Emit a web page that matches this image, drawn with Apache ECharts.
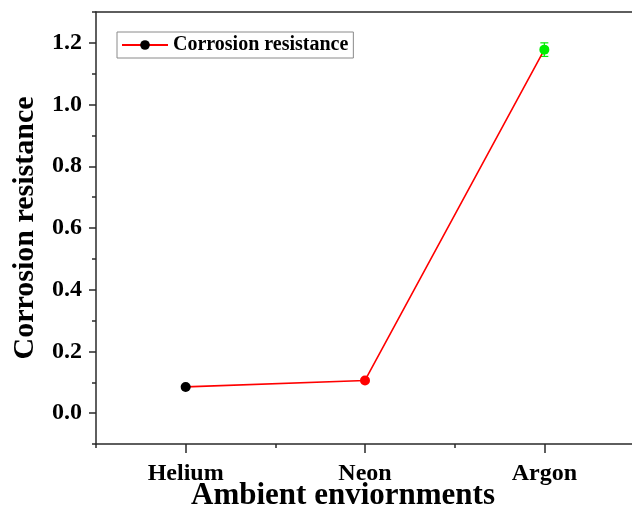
<!DOCTYPE html>
<html>
<head>
<meta charset="utf-8">
<script src="https://cdn.jsdelivr.net/npm/echarts@6/dist/echarts.min.js"></script>
<style>
  html, body { margin: 0; padding: 0; background: #ffffff; }
  #chart { width: 632px; height: 523px; }
</style>
</head>
<body>
<div id="chart"></div>
<script>
// Corrosion resistance measured in each ambient gas
const categories = ['Helium', 'Neon', 'Argon'];
const resistance = [0.085, 0.106, 1.178];
const resistanceErr = [0.004, 0.004, 0.022];
const pointColors = ['#000000', '#ff0000', '#00ee00'];

const seriesName = 'Corrosion resistance';
const xTitle = 'Ambient enviornments';
const yTitle = 'Corrosion resistance';

const FONT = '"Liberation Serif", "Times New Roman", serif';
const AXIS_COLOR = '#2a2a2a';

// main plot frame (pixels)
const G = { left: 96, right: -2, top: 12, bottom: 79 };
const Y_MIN = -0.1, Y_MAX = 1.3;
const chartH = 523;
const pxPerUnit = (chartH - G.top - G.bottom) / (Y_MAX - Y_MIN);

const chart = echarts.init(document.getElementById('chart'), null, { renderer: 'canvas' });

const errorData = categories.map((c, i) => ({
  value: [i, resistance[i] - resistanceErr[i], resistance[i] + resistanceErr[i]],
  itemStyle: { color: pointColors[i] }
}));

const pointData = categories.map((c, i) => ({
  value: resistance[i],
  itemStyle: { color: pointColors[i] }
}));

const axisLineStyle = { color: AXIS_COLOR, width: 1.5 };

chart.setOption({
  animation: false,
  backgroundColor: '#ffffff',
  grid: [
    {
      left: G.left, right: G.right, top: G.top, bottom: G.bottom,
      containLabel: false, outerBoundsMode: 'none'
    },
    // labelled major ticks 0.0 .. 1.2
    {
      left: G.left, right: G.right,
      top: G.top + (Y_MAX - 1.2) * pxPerUnit,
      bottom: G.bottom + (0 - Y_MIN) * pxPerUnit,
      containLabel: false, outerBoundsMode: 'none'
    }
  ],
  legend: {
    data: [seriesName],
    left: 117,
    top: 32,
    padding: [3, 5, 3, 4],
    borderColor: '#8a8a8a',
    borderWidth: 1,
    itemWidth: 46,
    itemHeight: 12,
    textStyle: { fontFamily: FONT, fontWeight: 'bold', fontSize: 20, color: '#000' }
  },
  xAxis: [
    {
      type: 'category',
      gridIndex: 0,
      data: categories,
      position: 'bottom',
      boundaryGap: true,
      axisLine: { show: true, onZero: false, lineStyle: axisLineStyle },
      axisTick: { show: true, alignWithLabel: true, length: 9, lineStyle: axisLineStyle },
      axisLabel: { fontFamily: FONT, fontWeight: 'bold', fontSize: 24, color: '#000', margin: 18 },
      splitLine: { show: false },
      name: xTitle,
      nameLocation: 'middle',
      nameGap: 36,
      nameMoveOverlap: false,
      nameTextStyle: { fontFamily: FONT, fontWeight: 'bold', fontSize: 31, color: '#000', padding: [0, 44, 0, 0] }
    },
    {
      // short ticks between categories
      type: 'category',
      gridIndex: 0,
      data: categories,
      position: 'bottom',
      boundaryGap: true,
      axisLine: { show: false, onZero: false },
      axisTick: { show: true, length: 4, lineStyle: axisLineStyle },
      axisLabel: { show: false },
      splitLine: { show: false }
    },
    {
      // top frame line
      type: 'category',
      gridIndex: 0,
      data: categories,
      position: 'top',
      axisLine: { show: true, onZero: false, lineStyle: axisLineStyle },
      axisTick: { show: false },
      axisLabel: { show: false },
      splitLine: { show: false }
    },
    {
      type: 'category',
      gridIndex: 1,
      data: categories,
      show: false
    }
  ],
  yAxis: [
    {
      type: 'value',
      gridIndex: 0,
      min: Y_MIN,
      max: Y_MAX,
      interval: 0.1,
      axisLine: { show: true, onZero: false, lineStyle: axisLineStyle },
      axisTick: { show: true, length: 4, lineStyle: axisLineStyle },
      axisLabel: { show: false },
      splitLine: { show: false },
      name: yTitle,
      nameLocation: 'middle',
      nameGap: 56,
      nameMoveOverlap: false,
      nameTextStyle: { fontFamily: FONT, fontWeight: 'bold', fontSize: 30, color: '#000' }
    },
    {
      type: 'value',
      gridIndex: 1,
      min: 0,
      max: 1.2,
      interval: 0.2,
      axisLine: { show: false },
      axisTick: { show: true, length: 7, lineStyle: axisLineStyle },
      axisLabel: {
        fontFamily: FONT, fontWeight: 'bold', fontSize: 24, color: '#000', margin: 14,
        formatter: v => v.toFixed(1)
      },
      splitLine: { show: false }
    }
  ],
  series: [
    {
      name: 'error',
      type: 'custom',
      xAxisIndex: 0,
      yAxisIndex: 0,
      z: 1,
      encode: { x: 0, y: [1, 2] },
      data: errorData,
      renderItem: function (params, api) {
        const x = api.value(0);
        const lo = api.coord([x, api.value(1)]);
        const hi = api.coord([x, api.value(2)]);
        const half = 4;
        const style = { stroke: api.visual('color'), lineWidth: 1.2 };
        return {
          type: 'group',
          children: [
            { type: 'line', shape: { x1: hi[0], y1: hi[1], x2: lo[0], y2: lo[1] }, style: style },
            { type: 'line', shape: { x1: hi[0] - half, y1: hi[1], x2: hi[0] + half, y2: hi[1] }, style: style },
            { type: 'line', shape: { x1: lo[0] - half, y1: lo[1], x2: lo[0] + half, y2: lo[1] }, style: style }
          ]
        };
      }
    },
    {
      name: seriesName,
      type: 'line',
      xAxisIndex: 0,
      yAxisIndex: 0,
      z: 3,
      data: pointData,
      symbol: 'circle',
      symbolSize: 10,
      showAllSymbol: true,
      lineStyle: { color: '#ff0000', width: 1.6 },
      itemStyle: { color: '#000000' }
    }
  ]
});
</script>
</body>
</html>
